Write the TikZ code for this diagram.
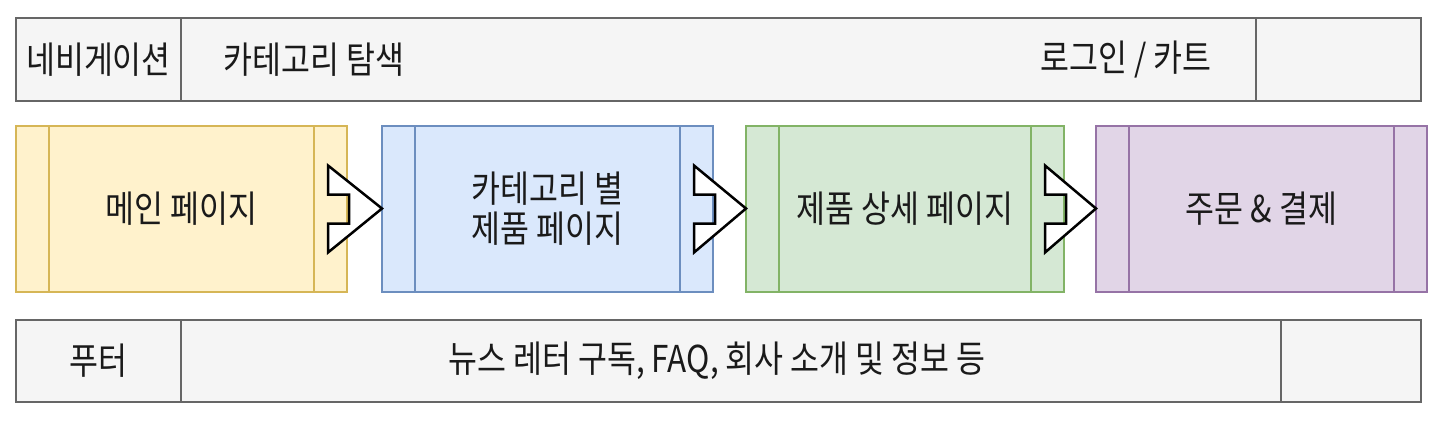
\documentclass[tikz,border=0pt]{standalone}
\usepackage{fontspec}
\setmainfont[FakeStretch=0.85]{Noto Sans CJK KR}
\usetikzlibrary{calc}
\definecolor{grayfill}{HTML}{F5F5F5}
\definecolor{graydraw}{HTML}{666666}
\definecolor{yfill}{HTML}{FFF2CC}
\definecolor{ydraw}{HTML}{D6B656}
\definecolor{bfill}{HTML}{DAE8FC}
\definecolor{bdraw}{HTML}{6C8EBF}
\definecolor{gfill}{HTML}{D5E8D4}
\definecolor{gdraw}{HTML}{82B366}
\definecolor{pfill}{HTML}{E1D5E7}
\definecolor{pdraw}{HTML}{9673A6}
\definecolor{txt}{HTML}{1A1A1A}
\tikzset{
  cell/.style={draw=graydraw, fill=grayfill, line width=2pt, rectangle, inner sep=0pt, outer sep=0pt, anchor=north west},
  proc/.style={rectangle, line width=2pt, inner sep=0pt, outer sep=0pt, anchor=north west, minimum width=331pt, minimum height=166pt, text=txt, align=center, font=\fontsize{37}{40}\selectfont},
  lbl/.style={text=txt, inner sep=0pt, font=\fontsize{37}{40}\selectfont},
  flowarrow/.style={draw=black, fill=white, line width=2.5pt, line join=miter},
}
\begin{document}
\begin{tikzpicture}[x=1pt,y=-1pt]
\useasboundingbox (0,0) rectangle (1446,432);
\fill[white] (0,0) rectangle (1446,432);
% navigation bar
\node[cell, minimum width=165pt, minimum height=83pt] (nav1) at (16,18) {};
\node[cell, minimum width=1075pt, minimum height=83pt] (nav2) at (181,18) {};
\node[cell, minimum width=165pt, minimum height=83pt] (nav3) at (1256,18) {};
\node[lbl] (navt) at (nav1.center) {네비게이션};
\node[lbl] (catt) at (314,59.5) {카테고리 탐색};
\node[lbl] (logt) at (1126,59.5) {로그인 / 카트};
% process boxes
\node[proc, draw=ydraw, fill=yfill] (p1) at (16,125.5) {메인 페이지};
\node[proc, draw=bdraw, fill=bfill] (p2) at (382,125.5) {카테고리 별\\제품 페이지};
\node[proc, draw=gdraw, fill=gfill, minimum width=318pt] (p3) at (746,125.5) {제품 상세 페이지};
\node[proc, draw=pdraw, fill=pfill] (p4) at (1096,125.5) {주문 \& 결제};
\foreach \p/\c in {p1/ydraw,p2/bdraw,p3/gdraw,p4/pdraw}{
  \draw[\c, line width=2pt] ($(\p.north west)+(33,0)$) -- ($(\p.south west)+(33,0)$);
  \draw[\c, line width=2pt] ($(\p.north east)+(-33,0)$) -- ($(\p.south east)+(-33,0)$);
}
% step arrows
\foreach \a/\b in {p1/p2,p2/p3,p3/p4}{
  \draw[flowarrow] ($(\a.east)+(-19,-43)$) -- ($(\b.west)+(0,0)$) -- ($(\a.east)+(-19,44)$)
    -- ($(\a.east)+(-19,15)$) -- ($(\a.east)+(2,15)$) -- ($(\a.east)+(2,-14)$)
    -- ($(\a.east)+(-19,-14)$) -- cycle;
}
% footer
\node[cell, minimum width=165pt, minimum height=82pt] (ft1) at (16,319.5) {};
\node[cell, minimum width=1100pt, minimum height=82pt] (ft2) at (181,319.5) {};
\node[cell, minimum width=140pt, minimum height=82pt] (ft3) at (1281,319.5) {};
\node[lbl] (ftt) at (ft1.center) {푸터};
\node[lbl] (ftx) at (717,360.5) {뉴스 레터 구독, FAQ, 회사 소개 및 정보 등};
\end{tikzpicture}
\end{document}
